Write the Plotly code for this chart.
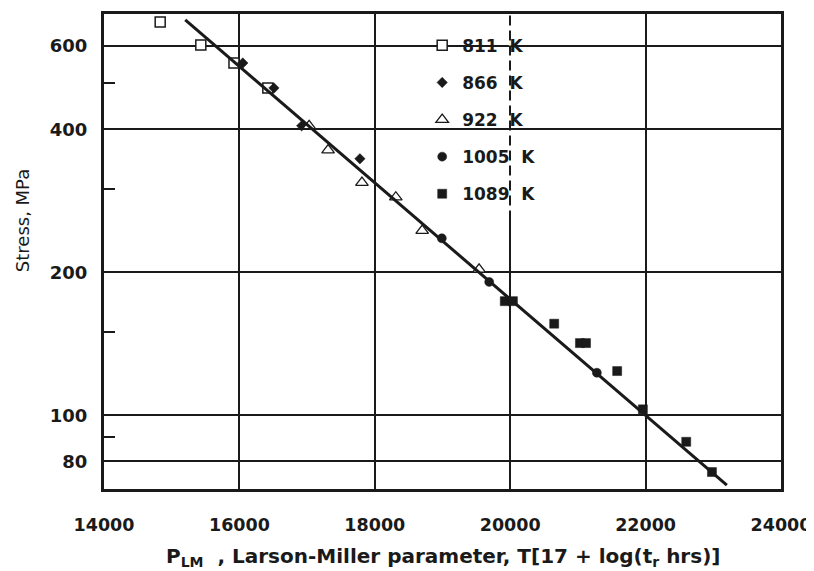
import plotly.graph_objects as go
import math

# ---- data ----
x_ticks = [14000, 16000, 18000, 20000, 22000, 24000]
y_ticks = [80, 100, 200, 400, 600]
y_minor = [90, 150, 300, 500]

p811_x = [14830, 15430, 15920, 16420]
p811_y = [673, 602, 552, 489]
p866_x = [16050, 16510, 16920, 17780]
p866_y = [552, 489, 407, 347]
p922_x = [17030, 17310, 17810, 18310, 18700, 19540]
p922_y = [407, 362, 309, 288, 245, 203]
p1005_x = [18990, 19690, 21280]
p1005_y = [236, 191, 123]
p1089_x = [19920, 20040, 20650, 21030, 21120, 21580, 21960, 22600, 22980]
p1089_y = [174, 174, 156, 142, 142, 124, 103, 88, 76]
fit_x = [15200, 23200]
fit_y = [680, 71.3]

FONT = "DejaVu Sans"
INK = "#1a1a1a"

fig = go.Figure()

series = [
    ("811\u00a0\u00a0K", p811_x, p811_y, dict(symbol="square", size=10, color="white", line=dict(color=INK, width=1.5))),
    ("866\u00a0\u00a0K", p866_x, p866_y, dict(symbol="diamond", size=8, color=INK, line=dict(color=INK, width=0.5))),
    ("922\u00a0\u00a0K", p922_x, p922_y, dict(symbol="triangle-up", size=11, color="white", line=dict(color=INK, width=1.3))),
    ("1005\u00a0\u00a0K", p1005_x, p1005_y, dict(symbol="circle", size=9, color=INK, line=dict(color=INK, width=0.5))),
    ("1089\u00a0\u00a0K", p1089_x, p1089_y, dict(symbol="square", size=9, color=INK, line=dict(color=INK, width=0.5))),
]
for i, (name, xs, ys, mk) in enumerate(series):
    fig.add_trace(go.Scatter(x=xs, y=ys, mode="markers", name=name, marker=mk,
                             legendgroup=f"g{i}", showlegend=True))

fig.add_trace(go.Scatter(x=fit_x, y=fit_y, mode="lines", line=dict(color=INK, width=3),
                         showlegend=False, hoverinfo="skip"))

# dashed look of the 20000 gridline in the legend region
fig.add_shape(type="line", xref="x", yref="y", x0=20000, x1=20000, y0=270, y1=700,
              line=dict(color="white", width=3, dash="5px,10px"), layer="above")

fig.update_layout(
    width=814, height=571,
    margin=dict(l=96, r=41, t=6, b=90, autoexpand=False),
    paper_bgcolor="white", plot_bgcolor="white",
    font=dict(family=FONT, color=INK),
    legend=dict(x=0.470, y=0.971, xanchor="left", yanchor="top",
                bgcolor="rgba(0,0,0,0)", borderwidth=0,
                font=dict(family=FONT, size=17, color=INK, weight="bold"),
                tracegroupgap=12, traceorder="grouped"),
    xaxis=dict(range=[14000, 24000], tickvals=x_ticks, ticktext=[str(v) for v in x_ticks],
               showgrid=True, gridcolor=INK, gridwidth=2, ticks="",
               showline=True, linecolor=INK, linewidth=3, mirror=True,
               zeroline=False, ticklabelstandoff=18,
               tickfont=dict(family=FONT, size=17.5, color=INK, weight="bold")),
    yaxis=dict(type="log", range=[math.log10(70), math.log10(700)],
               tickvals=y_ticks, ticktext=[str(v) for v in y_ticks],
               showgrid=True, gridcolor=INK, gridwidth=1.5, ticks="",
               showline=True, linecolor=INK, linewidth=3, mirror=True,
               zeroline=False, ticklabelstandoff=10,
               tickfont=dict(family=FONT, size=18, color=INK, weight="bold"),
               minor=dict(tickvals=y_minor, ticks="inside", ticklen=11, tickwidth=2,
                          tickcolor=INK, showgrid=False)),
    annotations=[
        dict(text="Stress, MPa", xref="paper", yref="paper", x=-0.121, y=0.564,
             xanchor="center", yanchor="middle", textangle=-90, showarrow=False,
             font=dict(family=FONT, size=18, color=INK)),
        dict(text="P<sub>LM</sub>  , Larson-Miller parameter, T[17 + log(t<sub>r</sub> hrs)]",
             xref="paper", yref="paper", x=0.5, y=-0.143, xanchor="center", yanchor="middle",
             showarrow=False, font=dict(family=FONT, size=20, color=INK, weight="bold")),
    ],
)

fig.write_html("out.html")
